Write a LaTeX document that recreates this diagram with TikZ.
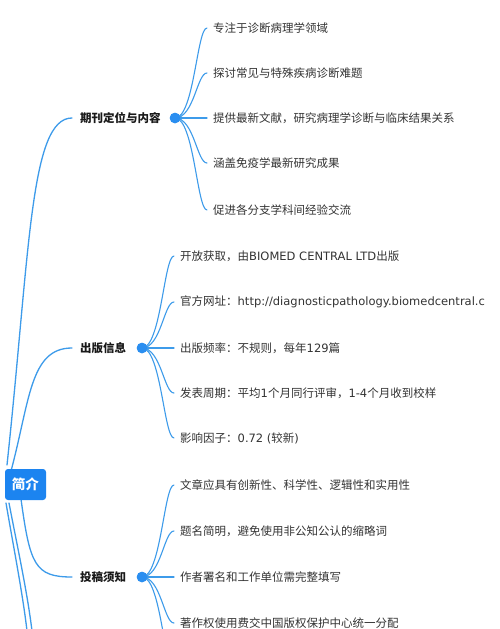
\documentclass[tikz,border=0pt]{standalone}
\usepackage{fontspec}
\setmainfont{Noto Sans CJK SC}
\newfontfamily\latfont{DejaVu Sans}
\newcommand\lt[1]{{\latfont\fontsize{11.5pt}{13pt}\selectfont #1}}
\usetikzlibrary{calc}
\definecolor{lineblue}{HTML}{3D9BEA}
\definecolor{dotblue}{HTML}{2A8EF0}
\definecolor{rootblue}{HTML}{1C84F0}
\definecolor{txt}{HTML}{333333}
\tikzset{
  conn/.style={draw=lineblue, line width=1.3pt, line cap=round},
  brk/.style={to path={.. controls ($(\tikztostart)+(19,0)$) and ($(\tikztotarget)+(-10,0)$) .. (\tikztotarget)}},
  leaf/.style={anchor=west, inner xsep=6pt, inner ysep=0pt, font=\fontsize{11.5pt}{13pt}\selectfont, text=txt},
  branchlab/.style={anchor=west, inner xsep=8pt, inner ysep=0pt, font=\fontsize{11.5pt}{13pt}\selectfont\bfseries, text=black!90},
  bdot/.style={circle, fill=dotblue, inner sep=0pt, minimum size=10.5pt},
  rootbox/.style={rounded corners=3pt, fill=rootblue, text=white, font=\fontsize{13.5pt}{15pt}\selectfont\bfseries, minimum width=41pt, minimum height=31pt, inner sep=0pt}
}
\begin{document}
\begin{tikzpicture}[x=1pt,y=-1pt]
\useasboundingbox (0,0) rectangle (500,629);
\clip (0,0) rectangle (500,629);
\fill[white] (0,0) rectangle (500,629);

% root start/end coordinates
\coordinate (s1) at (7,465);
\coordinate (s2) at (11,471);
\coordinate (s3) at (21,499);
\coordinate (s4) at (6,503);
\coordinate (s5) at (9,503);
\coordinate (e4) at (28,640);
\coordinate (e5) at (33,640);

% branch labels
\node[branchlab] (b1) at (72,118) {期刊定位与内容};
\node[branchlab] (b2) at (72,348) {出版信息};
\node[branchlab] (b3) at (72,577) {投稿须知};

% main connectors
\draw[conn] (s1) .. controls (30,250) and (30,118) .. (b1.west);
\draw[conn] (s2) .. controls (30,400) and (30,348) .. (b2.west);
\draw[conn] (s3) .. controls (30,565) and (35,577) .. (b3.west);
\draw[conn] (s4) .. controls (14,550) and (24,600) .. (e4);
\draw[conn] (s5) .. controls (18,550) and (29,600) .. (e5);

% root box
\node[rootbox] (root) at (25.5,484.5) {简介};

% dots
\node[bdot] (d1) at (175,118) {};
\node[bdot] (d2) at (142,348) {};
\node[bdot] (d3) at (142,577) {};

% leaves branch 1
\node[leaf] (c11) at (207,28) {专注于诊断病理学领域};
\node[leaf] (c12) at (207,73) {探讨常见与特殊疾病诊断难题};
\node[leaf] (c13) at (207,118) {提供最新文献，研究病理学诊断与临床结果关系};
\node[leaf] (c14) at (207,163) {涵盖免疫学最新研究成果};
\node[leaf] (c15) at (207,210) {促进各分支学科间经验交流};

% leaves branch 2
\node[leaf] (c21) at (174,256) {开放获取，由\lt{BIOMED CENTRAL LTD}出版};
\node[leaf] (c22) at (174,302) {官方网址：\lt{http://diagnosticpathology.biomedcentral.c}};
\node[leaf] (c23) at (174,348) {出版频率：不规则，每年\lt{129}篇};
\node[leaf] (c24) at (174,393) {发表周期：平均\lt{1}个月同行评审，\lt{1-4}个月收到校样};
\node[leaf] (c25) at (174,438) {影响因子：\lt{0.72 (}较新\lt{)}};

% leaves branch 3
\node[leaf] (c31) at (174,485) {文章应具有创新性、科学性、逻辑性和实用性};
\node[leaf] (c32) at (174,531) {题名简明，避免使用非公知公认的缩略词};
\node[leaf] (c33) at (174,577) {作者署名和工作单位需完整填写};
\node[leaf] (c34) at (174,623) {著作权使用费交中国版权保护中心统一分配};
\coordinate (c35) at (174,669);

% bracket connectors
\foreach \c in {c11,c12,c13,c14,c15} \draw[conn, line width=1.1pt] (d1.center) to[brk] (\c.west);
\foreach \c in {c21,c22,c23,c24,c25} \draw[conn, line width=1.1pt] (d2.center) to[brk] (\c.west);
\foreach \c in {c31,c32,c33,c34} \draw[conn, line width=1.1pt] (d3.center) to[brk] (\c.west);
\draw[conn, line width=1.1pt] (d3.center) to[brk] (c35);

% redraw dots on top
\node[bdot] at (d1) {};
\node[bdot] at (d2) {};
\node[bdot] at (d3) {};
\end{tikzpicture}
\end{document}
